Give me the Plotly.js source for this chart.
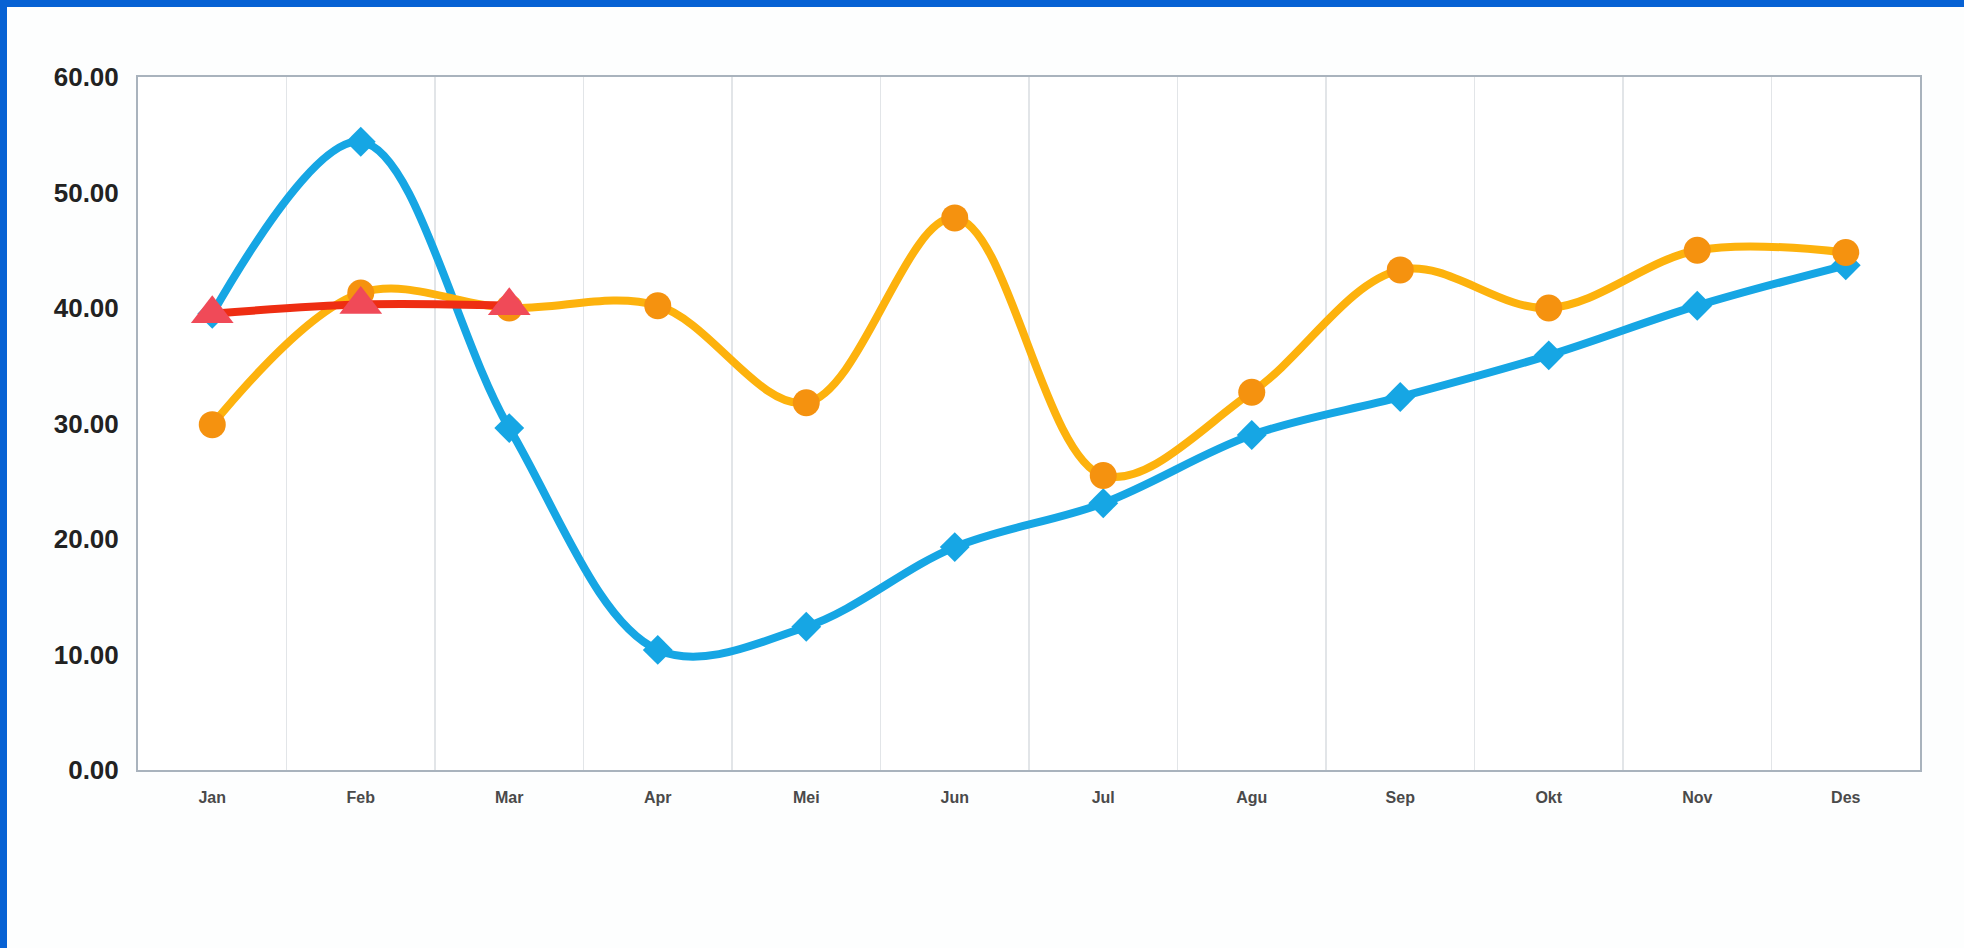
<!DOCTYPE html>
<html>
<head>
<meta charset="utf-8">
<script src="https://cdn.plot.ly/plotly-3.0.1.min.js"></script>
<style>
  html, body { margin: 0; padding: 0; background: #ffffff; }
  #wrap { position: relative; width: 1964px; height: 948px; overflow: hidden; background: #fdfefe; }
  #chart { position: absolute; left: 0; top: 0; width: 1964px; height: 948px; }
  #bt { position: absolute; left: 0; top: 0; width: 1964px; height: 7px; background: #0762d4; }
  #bl { position: absolute; left: 0; top: 0; width: 7px; height: 948px; background: #0762d4; }
</style>
</head>
<body>
<div id="wrap">
  <div id="chart"></div>
  <div id="bt"></div>
  <div id="bl"></div>
</div>
<script>
const months = ["Jan","Feb","Mar","Apr","Mei","Jun","Jul","Agu","Sep","Okt","Nov","Des"];
const blueValues = [39.5, 54.4, 29.6, 10.4, 12.4, 19.3, 23.1, 29.0, 32.3, 35.9, 40.2, 43.7];
const orangeValues = [29.9, 41.3, 40.0, 40.2, 31.8, 47.8, 25.5, 32.7, 43.3, 40.0, 45.0, 44.8];
const redMonths = ["Jan","Feb","Mar"];
const redValues = [39.5, 40.3, 40.2];
const yTicks = [0, 10, 20, 30, 40, 50, 60];

const traces = [
  {
    x: months, y: blueValues, type: 'scatter', mode: 'lines+markers',
    line: { color: '#16a6e4', width: 8, shape: 'spline', smoothing: 1 },
    marker: { symbol: 'diamond', size: 23, color: '#16a6e4' },
    hoverinfo: 'x+y'
  },
  {
    x: months, y: orangeValues, type: 'scatter', mode: 'lines+markers',
    line: { color: '#fdb20d', width: 8, shape: 'spline', smoothing: 1 },
    marker: { symbol: 'circle', size: 27, color: '#f5920f' },
    hoverinfo: 'x+y'
  },
  {
    x: redMonths, y: redValues, type: 'scatter', mode: 'lines+markers',
    line: { color: '#ee2d12', width: 8, shape: 'spline', smoothing: 1 },
    marker: { symbol: 'triangle-up', size: 37, color: '#f04a58' },
    hoverinfo: 'x+y'
  }
];

const layout = {
  width: 1964, height: 948,
  margin: { l: 138, r: 44, t: 77, b: 178 },
  paper_bgcolor: 'rgba(0,0,0,0)',
  plot_bgcolor: '#ffffff',
  showlegend: false,
  xaxis: {
    type: 'category',
    categoryorder: 'array', categoryarray: months,
    range: [-0.5, 11.5],
    tickson: 'boundaries',
    showgrid: true, gridcolor: '#e2e5e8', gridwidth: 1.5,
    showline: true, mirror: true, linecolor: '#a9b3bd', linewidth: 2,
    ticks: '', ticklen: 0, ticklabelstandoff: 12,
    tickfont: { family: 'Liberation Sans, Arial, sans-serif', size: 16, color: '#4a4a4a', weight: 'bold' },
    zeroline: false, fixedrange: true
  },
  yaxis: {
    range: [0, 60],
    tickvals: yTicks,
    tickformat: '.2f',
    showgrid: false,
    showline: true, mirror: true, linecolor: '#a9b3bd', linewidth: 2,
    ticks: '', ticklabelstandoff: 12,
    tickfont: { family: 'Liberation Sans, Arial, sans-serif', size: 26, color: '#222222', weight: 'bold' },
    zeroline: false, fixedrange: true
  }
};

Plotly.newPlot('chart', traces, layout, { displayModeBar: false, staticPlot: true });
</script>
</body>
</html>
